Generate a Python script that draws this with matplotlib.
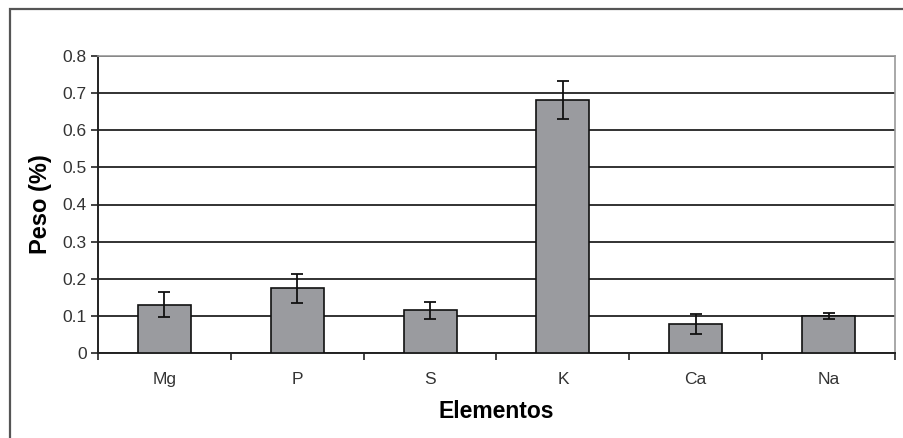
import numpy as np
import matplotlib.pyplot as plt
from matplotlib.patches import Rectangle

plt.rcParams['font.family'] = ['Liberation Sans', 'DejaVu Sans']

elementos = ['Mg', 'P', 'S', 'K', 'Ca', 'Na']
peso = [0.13, 0.174, 0.115, 0.682, 0.078, 0.100]
erro = [0.034, 0.040, 0.023, 0.052, 0.028, 0.008]

fig = plt.figure(figsize=(9.04, 4.38), dpi=100)

# moldura externa (sai pela direita e por baixo)
fig.patches.append(Rectangle((10 / 904, -0.05), 1.0, 1 - 9 / 438 + 0.05,
                             transform=fig.transFigure, fill=False,
                             edgecolor='#555555', linewidth=1.6))

ax = fig.add_axes([98 / 904, 1 - 353 / 438, (895 - 98) / 904, (353 - 56) / 438])

x = np.arange(len(elementos))
ax.bar(x, peso, width=0.4, color='#9a9b9f', edgecolor='#111111', linewidth=1.2,
       yerr=erro, capsize=4, error_kw=dict(ecolor='#111111', elinewidth=1.3, capthick=1.3),
       zorder=3)

ax.set_xlim(-0.5, len(elementos) - 0.5)
ax.set_ylim(0, 0.8)
ax.set_yticks(np.arange(0, 0.81, 0.1))
ax.set_yticklabels(['0'] + [f'{v:.1f}' for v in np.arange(0.1, 0.81, 0.1)])
ax.yaxis.grid(True, color='#222222', linewidth=1.3, zorder=0)
ax.set_axisbelow(True)

ax.set_xticks(x)
ax.set_xticklabels(elementos)
ax.set_xticks(np.arange(-0.5, len(elementos), 1.0), minor=True)
ax.tick_params(axis='x', which='major', length=0, pad=14, labelsize=12.5, labelcolor='#333333')
ax.tick_params(axis='x', which='minor', length=5, width=1.2, color='#222222', direction='out')
ax.tick_params(axis='y', length=5, width=1.2, color='#222222', direction='out',
               labelsize=12.5, labelcolor='#333333', pad=3)

ax.spines['left'].set_color('#222222')
ax.spines['left'].set_linewidth(1.4)
ax.spines['bottom'].set_color('#222222')
ax.spines['bottom'].set_linewidth(1.4)
ax.spines['top'].set_color('#999999')
ax.spines['right'].set_color('#999999')
ax.spines['top'].set_linewidth(1.2)
ax.spines['right'].set_linewidth(1.2)

ax.set_xlabel('Elementos', fontsize=16.5, fontweight='bold', labelpad=9)
ax.set_ylabel('Peso (%)', fontsize=17, fontweight='bold', labelpad=8)

fig.savefig('out.png', dpi=100)
